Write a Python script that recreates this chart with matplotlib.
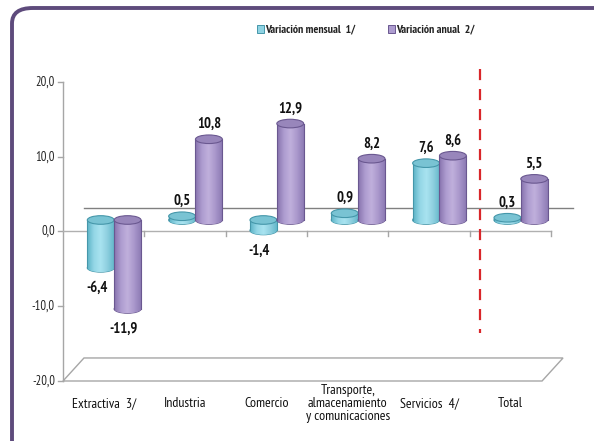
"""Variación mensual / anual por sector: barras tipo cilindro con piso en perspectiva."""
import matplotlib
matplotlib.use("Agg")
import matplotlib.pyplot as plt
from matplotlib.patches import Ellipse, Polygon, FancyBboxPatch, Rectangle
from matplotlib.colors import LinearSegmentedColormap
import numpy as np

plt.rcParams['font.family'] = ['PT Sans Narrow', 'DejaVu Sans']

categories = ["Extractiva  3/", "Industria", "Comercio",
              "Transporte,\nalmacenamiento\ny comunicaciones", "Servicios  4/", "Total"]
mensual = [-6.4, 0.5, -1.4, 0.9, 7.6, 0.3]
anual = [-11.9, 10.8, 12.9, 8.2, 8.6, 5.5]
yticks = [-20, -10, 0, 10, 20]
series_names = ["Variación mensual  1/", "Variación anual  2/"]

W, H = 594, 441
fig = plt.figure(figsize=(W / 100, H / 100), dpi=100)

# rounded purple frame
frame = FancyBboxPatch((12 / W, 1 - 460 / H), 640 / W, 452 / H,
                       boxstyle="round,pad=0,rounding_size=0.035",
                       transform=fig.transFigure, fill=False,
                       edgecolor="#5e4b7c", linewidth=2.8)
fig.patches.append(frame)

ax = fig.add_axes([63 / W, 1 - 381 / H, 488 / W, 299 / H])
ax.set_xlim(-0.5, 5.5)
ax.set_ylim(-20, 20)
ax.axis("off")

# 3D depth offset (in data units)
DX, DY = 0.258, 3.08
BW = 0.33      # bar width
EH = 1.15      # ellipse height

grey = "#a6a6a6"
# y axis + ticks
ax.plot([-0.5, -0.5], [-20, 20], color=grey, lw=1, clip_on=False, zorder=1)
for t in yticks:
    ax.plot([-0.56, -0.5], [t, t], color=grey, lw=1, clip_on=False, zorder=1)
    ax.text(-0.6, t, f"{t:.1f}".replace(".", ","), ha="right", va="center",
            fontsize=9, color="#222222")
# floor
floor = Polygon([[-0.5, -20], [-0.5 + DX, -20 + DY], [5.5 + DX - 0.11, -20 + DY],
                 [5.5 - 0.11, -20]], closed=True, fill=False, edgecolor=grey,
                lw=1, clip_on=False, zorder=1)
ax.add_patch(floor)
# zero lines (front axis and back wall)
ax.plot([-0.5, 5.5], [0, 0], color="#b0b0b0", lw=1, clip_on=False, zorder=1)
for i in range(1, 7):
    ax.plot([i - 0.5, i - 0.5], [0, -0.6], color=grey, lw=1, clip_on=False, zorder=1)
ax.plot([-0.5 + DX, 5.77], [DY, DY], color="#808080", lw=1, clip_on=False, zorder=1)

cm_cyan = LinearSegmentedColormap.from_list(
    "c", ["#5cb3c6", "#93d6e6", "#a9e3f0", "#8fd0e0", "#66b9cc"])
cm_purp = LinearSegmentedColormap.from_list(
    "p", ["#8672ad", "#ad9bcf", "#c0b0dc", "#aa98cc", "#8e7cb5"])
grad = np.linspace(0, 1, 64).reshape(1, -1)


def cylinder(xc, base, value, cmap, cap, edge, z):
    lo, hi = min(base, base + value), max(base, base + value)
    x0, x1 = xc - BW / 2, xc + BW / 2
    bot = Ellipse((xc, lo), BW, EH, facecolor="none", edgecolor=edge, lw=0.8, zorder=z)
    ax.add_patch(bot)
    im = ax.imshow(grad, cmap=cmap, extent=[x0, x1, lo - EH / 2, lo], aspect="auto",
                   zorder=z + 0.05, interpolation="bilinear")
    im.set_clip_path(bot)
    ax.imshow(grad, cmap=cmap, extent=[x0, x1, lo, hi], aspect="auto",
              zorder=z + 0.1, interpolation="bilinear")
    ax.plot([x0, x0], [lo, hi], color=edge, lw=0.8, zorder=z + 0.2)
    ax.plot([x1, x1], [lo, hi], color=edge, lw=0.8, zorder=z + 0.2)
    ax.add_patch(Ellipse((xc, hi), BW, EH, facecolor=cap, edgecolor=edge,
                         lw=0.8, zorder=z + 0.3))
    return lo, hi


def fmt(v):
    return f"{v:.1f}".replace(".", ",")


base = DY / 2
for i, (m, a) in enumerate(zip(mensual, anual)):
    xc = i + DX / 2
    for j, (v, cmap, cap, edge) in enumerate([
            (m, cm_cyan, "#79c3d3", "#4597aa"),
            (a, cm_purp, "#9886bb", "#6a5890")]):
        bx = xc + (j - 0.5) * BW
        lo, hi = cylinder(bx, base, v, cmap, cap, edge, 3 + i * 2 + j)
        if v >= 0:
            ax.text(bx, hi + 2.0, fmt(v), ha="center", va="center",
                    fontsize=10.5, fontweight="bold", color="#111111", zorder=30)
        else:
            ax.text(bx - 0.05, lo - 2.7, fmt(v), ha="center", va="center",
                    fontsize=10.5, fontweight="bold", color="#111111", zorder=30)

# separator before Total
ax.plot([4.627, 4.627], [21.8, -13.6], color="#d9262a", lw=1.6,
        dashes=(5, 4), clip_on=False, zorder=40)

# category labels
for i, c in enumerate(categories):
    ax.text(i, -23.0, c, ha="center", va="center", fontsize=10,
            color="#111111", linespacing=1.0)
ax.set_xlim(-0.5, 5.5)
ax.set_ylim(-20, 20)

# legend
for (xs, name, fc, ec) in [(257, series_names[0], "#8fd3e3", "#4597aa"),
                            (388, series_names[1], "#ae9dd0", "#6a5890")]:
    fig.patches.append(Rectangle((xs / W, 1 - 33 / H), 7 / W, 8 / H,
                                 transform=fig.transFigure, facecolor=fc,
                                 edgecolor=ec, lw=0.7))
    fig.text((xs + 8) / W, 1 - 29 / H, name, ha="left", va="center",
             fontsize=8.5, fontweight="bold", color="#222222")

fig.savefig("out.png", dpi=100)
